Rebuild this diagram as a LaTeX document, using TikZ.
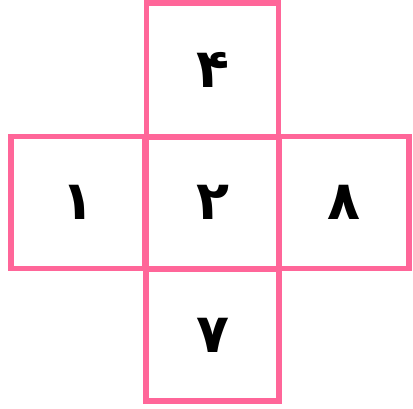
\documentclass[tikz,border=0pt]{standalone}
\usepackage{fontspec}
\newfontfamily\arabicfont[Script=Arabic]{DejaVu Sans}
\definecolor{boxpink}{RGB}{255,102,153}
\tikzset{
  cell/.style={draw=boxpink, line width=5.5pt, minimum width=133pt, minimum height=132pt, inner sep=0pt, anchor=center},
  digit/.style={font=\arabicfont\bfseries\fontsize{54}{54}\selectfont, inner sep=0pt, anchor=center}
}
\begin{document}
\begin{tikzpicture}[x=1pt,y=-1pt]
\useasboundingbox (0,0) rectangle (413,409);
\node[cell, minimum width=132pt, minimum height=134pt] (top) at (212.5,70) {};
\node[cell, minimum width=134pt] (left) at (78,202.5) {};
\node[cell] (center) at (212.5,202.5) {};
\node[cell, minimum width=130pt] (right) at (344,202.5) {};
\node[cell, minimum height=132pt] (bottom) at (212.5,335) {};
\node[digit] (d4) at (top) {۴};
\node[digit] (d1) at (left) {۱};
\node[digit] (d2) at (center) {۲};
\node[digit] (d8) at (right) {۸};
\node[digit] (d7) at (bottom) {۷};
\end{tikzpicture}
\end{document}
